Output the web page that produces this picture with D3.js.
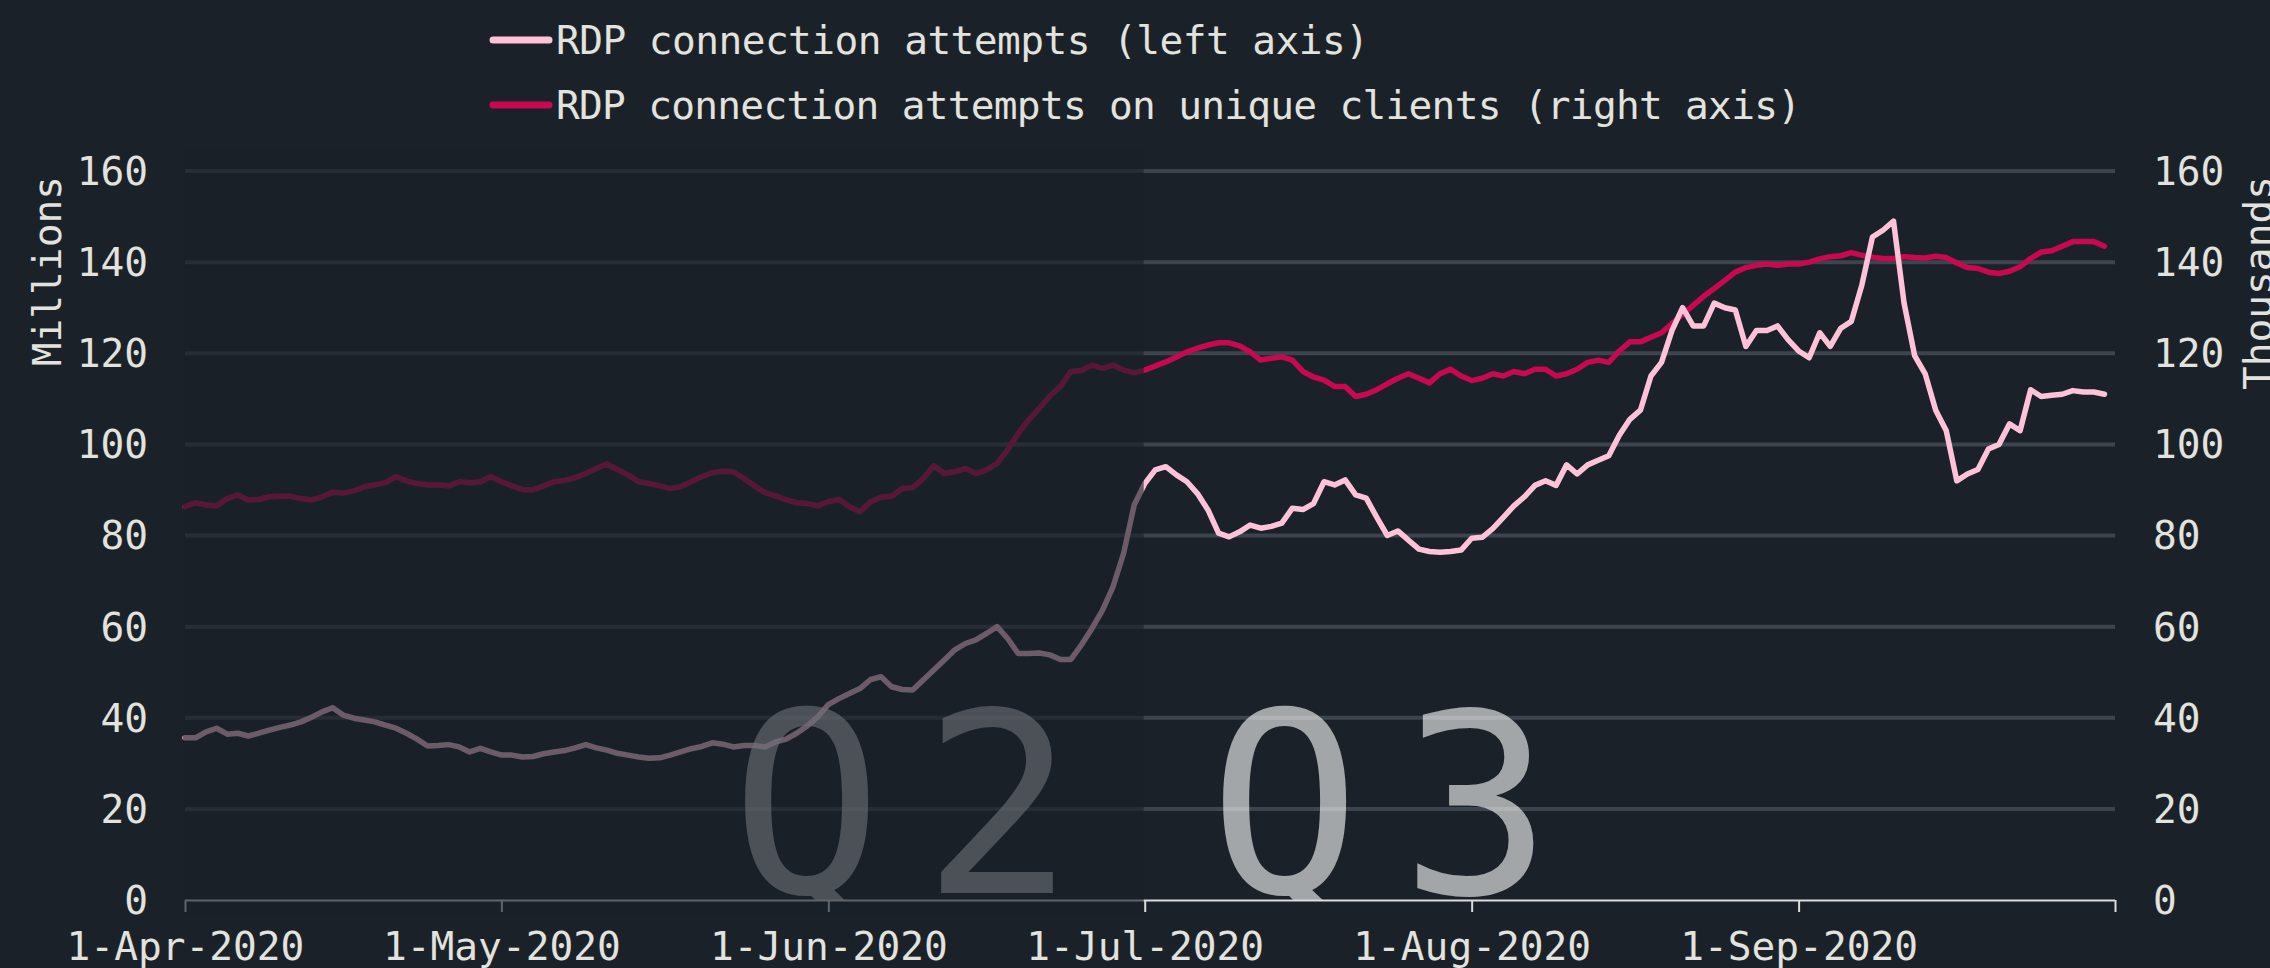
<!DOCTYPE html>
<html><head><meta charset="utf-8">
<script src="https://cdn.jsdelivr.net/npm/d3@7"></script>
<style>html,body{margin:0;background:#1b2129;}svg{display:block}</style>
</head><body>
<svg id="chart" width="2270" height="968"></svg>
<script>
// ---------- data ----------
const startDate = "2020-04-01";
const endDate = "2020-10-01";
const seriesNames = ["RDP connection attempts (left axis)", "RDP connection attempts on unique clients (right axis)"];
const axisTitles = ["Millions", "Thousands"];
const quarterLabels = ["Q2", "Q3"];
const quarterSplit = "2020-07-01";
const yTicks = [0, 20, 40, 60, 80, 100, 120, 140, 160];
const monthTicks = ["2020-04-01","2020-05-01","2020-06-01","2020-07-01","2020-08-01","2020-09-01","2020-10-01"];
const monthLabels = ["1-Apr-2020","1-May-2020","1-Jun-2020","1-Jul-2020","1-Aug-2020","1-Sep-2020",""];

// RDP connection attempts, millions (daily from 1-Apr-2020)
const attemptsQ2 = [35.6,35.6,36.9,37.7,36.4,36.6,36.0,36.6,37.3,37.9,
  38.4,39.1,40.1,41.3,42.2,40.6,39.9,39.5,39.1,38.4,
  37.7,36.6,35.3,33.8,33.9,34.1,33.6,32.5,33.3,32.5,
  31.8,31.8,31.4,31.5,32.1,32.5,32.8,33.4,34.1,33.4,
  32.9,32.2,31.8,31.4,31.1,31.2,31.8,32.5,33.2,33.7,
  34.5,34.2,33.6,33.9,33.9,33.6,34.7,35.3,36.6,38.2,
  40.2,42.9,44.2,45.3,46.4,48.4,49.0,46.8,46.2,46.1,
  48.3,50.5,52.7,54.9,56.3,57.1,58.5,60.0,57.4,54.1,
  54.1,54.2,53.8,52.8,52.8,56.0,59.6,63.6,68.8,76.1,86.7];
const attemptsQ3 = [91.4,94.4,95.1,93.3,91.8,89.2,85.6,80.5,79.7,80.8,
  82.3,81.6,82.0,82.7,86.0,85.7,87.0,91.8,91.1,92.2,
  88.9,88.2,84.0,80.0,81.0,79.0,77.0,76.5,76.3,76.5,
  76.8,79.4,79.6,81.5,84.0,86.5,88.5,91.0,92.0,91.0,
  95.5,93.5,95.5,96.5,97.5,102.0,105.5,107.5,115.0,118.0,
  125.0,130.0,126.0,126.0,131.0,130.0,129.5,121.5,125.0,125.0,
  126.0,123.0,120.5,119.0,124.5,121.5,125.5,127.0,135.0,145.5,
  147.0,149.0,131.0,119.5,115.5,107.5,103.0,92.0,93.5,94.5,
  99.0,100.0,104.5,103.0,112.0,110.5,110.8,111.0,111.8,111.5,111.5,111.0];

// RDP connection attempts on unique clients, thousands
const clientsQ2 = [86.3,87.2,86.7,86.5,88.1,88.9,87.8,87.9,88.5,88.6,
  88.6,88.1,87.8,88.5,89.5,89.3,89.8,90.7,91.1,91.6,
  92.9,92.0,91.4,91.1,91.1,90.9,91.8,91.6,91.8,92.9,
  91.8,90.9,90.1,90.0,90.9,91.8,92.1,92.7,93.6,94.7,
  95.7,94.5,93.3,91.8,91.4,90.9,90.3,90.7,91.8,92.9,
  93.8,94.1,94.0,92.5,90.9,89.4,88.7,87.8,87.2,87.0,
  86.5,87.4,87.9,86.3,85.2,87.4,88.4,88.6,90.3,90.5,
  92.5,95.3,93.6,94.0,94.7,93.6,94.4,95.8,98.8,102.4,
  105.4,107.9,110.6,112.7,116.0,116.2,117.4,116.7,117.4,116.3,115.7];
const clientsQ3 = [116.3,117.2,118.1,119.2,120.3,121.1,121.8,122.3,122.3,121.6,
  120.3,118.5,118.9,119.2,118.5,116.0,114.8,114.1,112.7,112.7,
  110.5,111.0,112.0,113.3,114.5,115.5,114.5,113.5,115.5,116.5,
  115.0,114.0,114.5,115.5,115.0,116.0,115.5,116.5,116.5,115.0,
  115.5,116.5,118.0,118.5,118.0,120.5,122.5,122.5,123.5,124.5,
  126.5,128.5,130.5,132.5,134.2,136.0,137.8,138.8,139.3,139.6,
  139.3,139.6,139.6,140.0,140.7,141.2,141.4,142.1,141.5,141.1,
  140.8,140.8,141.2,141.0,140.9,141.3,141.0,139.8,138.8,138.6,
  137.8,137.5,138.0,139.0,140.8,142.2,142.5,143.5,144.5,144.5,144.5,143.5];

// ---------- styles ----------
const BG = "#1b2129";
const PINK = "#ffc2d9";
const CRIMSON = "#c8084f";
const TEXT = "#e2e2de";
const GRID = "#3c444d";
const FONT = "'DejaVu Sans Mono', monospace";
const FS = 39.5;

const parse = d3.utcParse("%Y-%m-%d");
const start = parse(startDate);
const attempts = attemptsQ2.concat(attemptsQ3).map((v, i) => ({date: d3.utcDay.offset(start, i), v}));
const clients = clientsQ2.concat(clientsQ3).map((v, i) => ({date: d3.utcDay.offset(start, i), v}));

const L = 185, R = 2115, T = 171, B = 900;
const svg = d3.select("#chart");
svg.append("rect").attr("width", 2270).attr("height", 968).attr("fill", BG);

const defs = svg.append("defs");
defs.append("clipPath").attr("id", "plotClip")
  .append("rect").attr("x", L).attr("y", T - 40).attr("width", R - L).attr("height", B - T + 40);

const x = d3.scaleUtc().domain([start, parse(endDate)]).range([L, R]);
const yL = d3.scaleLinear().domain([0, 160]).range([B, T]);
const yR = d3.scaleLinear().domain([0, 160]).range([B, T]);

// gridlines
svg.append("g").selectAll("line").data(yTicks.filter(t => t > 0)).join("line")
  .attr("x1", L).attr("x2", R)
  .attr("y1", d => yL(d)).attr("y2", d => yL(d))
  .attr("stroke", GRID).attr("stroke-width", 4);

// lines
const lineL = d3.line().x(d => x(d.date)).y(d => yL(d.v));
const lineR = d3.line().x(d => x(d.date)).y(d => yR(d.v));
svg.append("path").datum(clients).attr("d", lineR)
  .attr("fill", "none").attr("stroke", CRIMSON).attr("stroke-width", 5.5)
  .attr("stroke-linejoin", "round").attr("stroke-linecap", "round");
svg.append("path").datum(attempts).attr("d", lineL)
  .attr("fill", "none").attr("stroke", PINK).attr("stroke-width", 5.5)
  .attr("stroke-linejoin", "round").attr("stroke-linecap", "round");

// big quarter labels (clipped at the x axis)
const split = parse(quarterSplit);
const qx = [x(split) - 414, x(split) + 64];
svg.append("g").attr("clip-path", "url(#plotClip)")
  .selectAll("text").data(quarterLabels).join("text")
  .attr("x", (d, i) => qx[i]).attr("y", 893)
  .attr("font-family", FONT).attr("font-size", 252)
  .attr("letter-spacing", "40px")
  .attr("fill", "#ffffff").attr("fill-opacity", 0.6)
  .text(d => d);

// x axis
const xAxis = d3.axisBottom(x)
  .tickValues(monthTicks.map(parse))
  .tickSize(12).tickPadding(18)
  .tickFormat((d, i) => monthLabels[i]);
const gx = svg.append("g").attr("transform", `translate(0,${B})`).call(xAxis);
gx.select(".domain").attr("stroke", "#dcdcdc").attr("stroke-width", 2).attr("d", `M${L},0.5H${R}`);
gx.selectAll(".tick line").attr("stroke", "#dcdcdc").attr("stroke-width", 2);
gx.selectAll(".tick text").attr("fill", TEXT).attr("font-family", FONT).attr("font-size", FS)
  .attr("dy", null).attr("y", 60);

// dim overlay for Q2
svg.append("rect").attr("x", L - 2).attr("y", 150).attr("width", x(split) - L + 1).attr("height", 765)
  .attr("fill", BG).attr("opacity", 0.64);

// y axes
const gyl = svg.append("g").attr("transform", `translate(${L},0)`)
  .call(d3.axisLeft(yL).tickValues(yTicks).tickSize(0).tickPadding(37));
gyl.select(".domain").remove();
gyl.selectAll("text").attr("fill", TEXT).attr("font-family", FONT).attr("font-size", FS)
  .attr("dy", "0.34em");
const gyr = svg.append("g").attr("transform", `translate(${R},0)`)
  .call(d3.axisRight(yR).tickValues(yTicks).tickSize(0).tickPadding(38));
gyr.select(".domain").remove();
gyr.selectAll("text").attr("fill", TEXT).attr("font-family", FONT).attr("font-size", FS)
  .attr("dy", "0.34em");

// axis titles
svg.append("text").attr("transform", "translate(61,176) rotate(-90)")
  .attr("text-anchor", "end").attr("fill", TEXT).attr("font-family", FONT).attr("font-size", FS)
  .text(axisTitles[0]);
svg.append("text").attr("transform", "translate(2272,176) rotate(-90)")
  .attr("text-anchor", "end").attr("fill", TEXT).attr("font-family", FONT).attr("font-size", FS)
  .text(axisTitles[1]);

// legend
const legendColors = [PINK, CRIMSON];
const legendWidths = [813, 1245];
const lg = svg.append("g").selectAll("g").data(seriesNames).join("g")
  .attr("transform", (d, i) => `translate(0,${40 + i * 65})`);
lg.append("line").attr("x1", 493).attr("x2", 549).attr("y1", 0).attr("y2", 0)
  .attr("stroke", (d, i) => legendColors[i]).attr("stroke-width", 7).attr("stroke-linecap", "round");
lg.append("text").attr("x", 556).attr("y", 14)
  .attr("fill", TEXT).attr("font-family", FONT).attr("font-size", FS)
  .attr("textLength", (d, i) => legendWidths[i]).attr("lengthAdjust", "spacing")
  .text(d => d);
</script>
</body></html>
